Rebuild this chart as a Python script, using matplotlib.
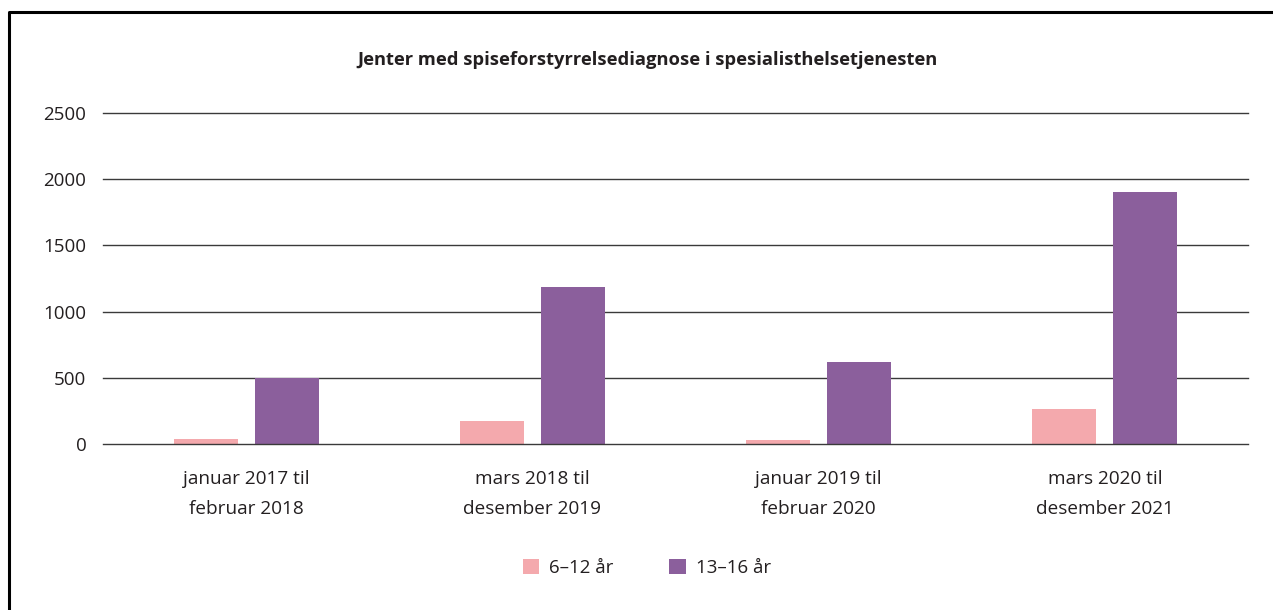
#!/usr/bin/env python3
"""
plot.py - Jenter med spiseforstyrrelsediagnose, grouped bar chart.
"""

import matplotlib
matplotlib.use("Agg")
import matplotlib.pyplot as plt
from matplotlib.lines import Line2D
from matplotlib.patches import Patch
import numpy as np

# Data
periods = [
    "januar 2017 til\nfebruar 2018",
    "mars 2018 til\ndesember 2019",
    "januar 2019 til\nfebruar 2020",
    "mars 2020 til\ndesember 2021",
]
age_6_12 = [38, 174, 30, 265]
age_13_16 = [500, 1186, 620, 1903]
series_labels = ["6–12 år", "13–16 år"]
y_ticks = [0, 500, 1000, 1500, 2000, 2500]

title = "Jenter med spiseforstyrrelsediagnose i spesialisthelsetjenesten"

PINK = "#F4A9AD"
PURPLE = "#8B5F9C"
TEXT = "#231F20"
GRID = "#3a3a3a"

plt.rcParams["font.family"] = ["Open Sans", "DejaVu Sans"]


def main():
    W, H = 1273, 610
    fig = plt.figure(figsize=(W / 100, H / 100), dpi=100)
    ax = fig.add_axes([103 / W, 1 - 444 / H, 1145 / W, 331 / H])

    x = np.arange(len(periods))
    width = 0.224
    offset = 0.1415
    ax.bar(x - offset, age_6_12, width, color=PINK, zorder=3)
    ax.bar(x + offset, age_13_16, width, color=PURPLE, zorder=3)

    ax.set_xlim(-0.5, len(periods) - 0.5)
    ax.set_ylim(0, 2500)
    ax.set_yticks(y_ticks)
    ax.set_yticklabels([str(v) for v in y_ticks], fontsize=13.5, color=TEXT)
    ax.set_xticks(x)
    ax.set_xticklabels(periods, fontsize=13.7, color=TEXT, linespacing=1.8)
    ax.tick_params(axis="y", length=0, pad=12)
    ax.tick_params(axis="x", length=0, pad=19)

    for v in y_ticks:
        ax.axhline(v, color=GRID, lw=1.0, zorder=4 if v == 0 else 1, clip_on=False)
    for s in ax.spines.values():
        s.set_visible(False)

    fig.text(647 / W, 1 - 60 / H, title, ha="center", va="center",
             fontsize=13.2, fontweight="bold", color=TEXT)

    handles = [Patch(facecolor=PINK, edgecolor="none"),
               Patch(facecolor=PURPLE, edgecolor="none")]
    fig.legend(handles, series_labels, loc="center", bbox_to_anchor=(0.508, 1 - 568 / H),
               ncol=2, frameon=False, fontsize=13.5, handlelength=0.9, handleheight=0.9,
               columnspacing=3.0, handletextpad=0.5, labelcolor=TEXT)

    # frame on top and left edges
    fig.add_artist(Line2D([9 / W, 9 / W, 1.0], [0.0, 1 - 12 / H, 1 - 12 / H],
                          transform=fig.transFigure, color="black", lw=2.2))

    fig.savefig("out.png", dpi=100, facecolor="white")
    plt.close(fig)


if __name__ == "__main__":
    main()
